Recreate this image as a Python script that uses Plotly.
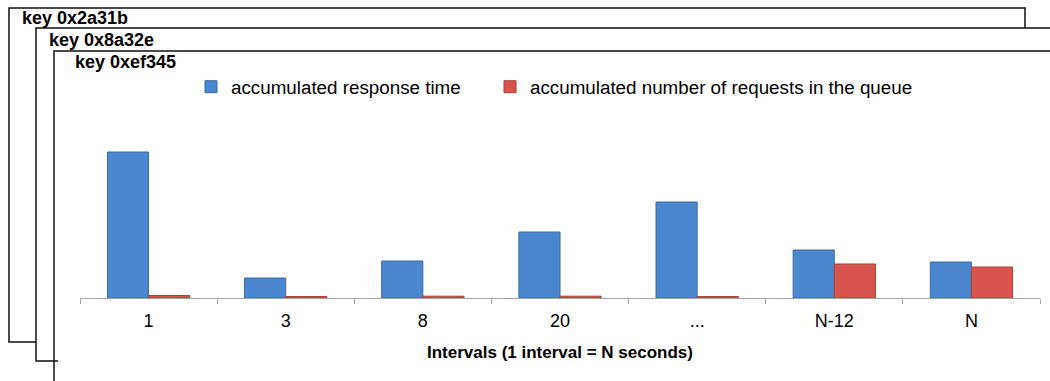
import plotly.graph_objects as go

categories = ["1", "3", "8", "20", "...", "N-12", "N"]
response_time = [146, 20, 37, 66, 96, 48, 36]
queue_requests = [2.5, 1.5, 1.8, 1.8, 1.5, 34, 31]
series_names = ["accumulated response time", "accumulated number of requests in the queue"]
key_labels = ["key 0x2a31b", "key 0x8a32e", "key 0xef345"]
x_title = "Intervals (1 interval = N seconds)"

W, H = 1050, 381
ML, MR, MT, MB = 80, 10, 100, 83
PW, PH = W - ML - MR, H - MT - MB

def px(x):
    return (x - ML) / PW

def py(y):
    return 1 - (y - MT) / PH

FONT = "Arial, Liberation Sans, sans-serif"

fig = go.Figure()
fig.add_trace(go.Bar(
    x=categories, y=response_time, name=series_names[0], legend="legend",
    marker=dict(color="#4A87CF", line=dict(color="#3A6AA3", width=1)),
))
fig.add_trace(go.Bar(
    x=categories, y=queue_requests, name=series_names[1], legend="legend2",
    marker=dict(color="#D8544C", line=dict(color="#A9403A", width=1)),
))

line_style = dict(color="#111111", width=1.5)
shapes = [
    dict(type="rect", xref="paper", yref="paper", layer="below",
         x0=px(9), x1=px(1025), y0=py(342), y1=py(8),
         line=line_style, fillcolor="white"),
    dict(type="rect", xref="paper", yref="paper", layer="below",
         x0=px(36), x1=px(1070), y0=py(361), y1=py(28),
         line=line_style, fillcolor="white"),
    dict(type="rect", xref="paper", yref="paper", layer="below",
         x0=px(54), x1=px(1070), y0=py(420), y1=py(51),
         line=line_style, fillcolor="white"),
    dict(type="line", xref="paper", yref="paper", layer="below",
         x0=px(54), x1=px(58), y0=py(361), y1=py(361), line=line_style),
]

annotations = []
for label, (lx, ly) in zip(key_labels, [(20, 18), (47, 40), (73, 62)]):
    annotations.append(dict(
        text="<b>%s</b>" % label, xref="paper", yref="paper",
        x=px(lx), y=py(ly), xanchor="left", yanchor="middle",
        showarrow=False, font=dict(family=FONT, size=18, color="black"),
    ))

legend_common = dict(
    orientation="h", xref="container", yref="container",
    yanchor="middle", xanchor="left", y=1 - 87 / H,
    font=dict(family=FONT, size=18.8, color="black"),
    bgcolor="rgba(0,0,0,0)",
)

fig.update_layout(
    width=W, height=H,
    margin=dict(l=ML, r=MR, t=MT, b=MB, autoexpand=False),
    paper_bgcolor="white", plot_bgcolor="rgba(0,0,0,0)",
    barmode="group", bargap=0.4, bargroupgap=0,
    shapes=shapes, annotations=annotations,
    font=dict(family=FONT, color="black"),
    showlegend=True,
    legend=dict(x=191 / W, **legend_common),
    legend2=dict(x=490 / W, **legend_common),
    xaxis=dict(
        type="category", showline=True, linecolor="#A6A6A6", linewidth=1,
        ticks="outside", tickson="boundaries", ticklen=5, tickcolor="#A6A6A6",
        showgrid=False, tickfont=dict(family=FONT, size=18, color="black"),
        ticklabelstandoff=6,
        title=dict(text="<b>%s</b>" % x_title, standoff=16,
                   font=dict(family=FONT, size=17, color="black")),
    ),
    yaxis=dict(range=[0, PH], visible=False, showgrid=False),
)

fig.write_html("out.html")
